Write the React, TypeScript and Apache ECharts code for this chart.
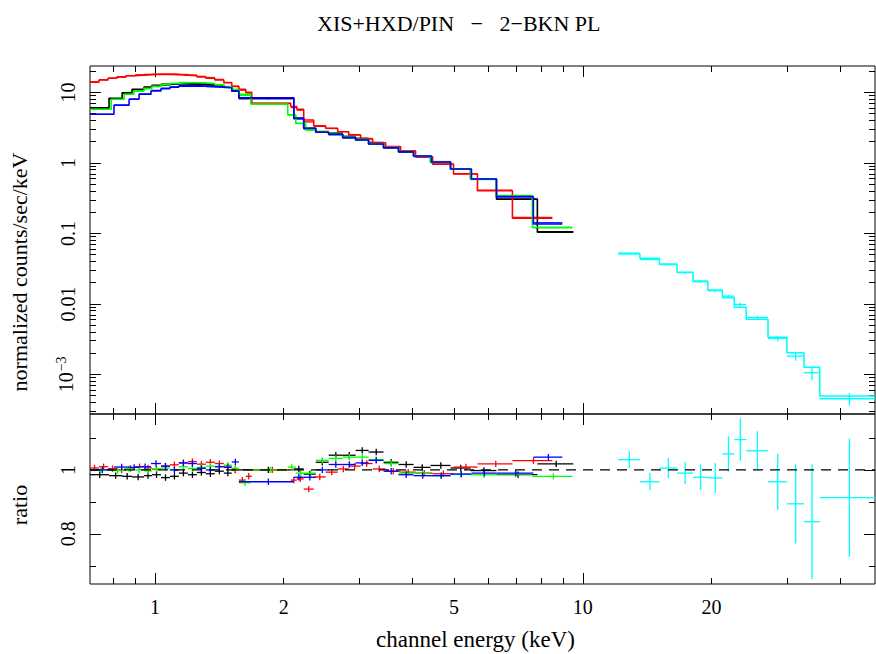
import { useEffect, useRef } from "react";
import * as echarts from "echarts";

const FONT = "'Liberation Serif', 'Times New Roman', serif";

// ---- XIS0 (black)
const blackEdges = [0.705, 0.781, 0.838, 0.884, 0.943, 0.984, 1.033, 1.084, 1.137, 1.194, 1.253, 1.315, 1.38, 1.449, 1.512, 1.571, 2.111, 2.227, 2.376, 2.547, 2.747, 2.945, 3.158, 3.422, 3.71, 4.022, 4.407, 4.908, 5.465, 6.284, 7.832, 9.502];
const blackModel = [6.07, 8.25, 9.9, 11.07, 11.93, 12.61, 13.0, 13.29, 13.4, 13.3, 13.1, 12.9, 12.6, 11.9, 10.5, 8.3, 4.29, 3.1, 2.72, 2.54, 2.28, 2.11, 1.85, 1.64, 1.44, 1.25, 1.03, 0.82, 0.59, 0.308, 0.104];
const blackRatio = [0.985, 0.982, 0.98, 0.978, 0.982, 0.985, 0.976, 0.98, 0.99, 0.985, 0.992, 0.988, 0.996, 0.99, 1.0, 1.0, 1.003, 0.987, 1.024, 1.046, 1.046, 1.061, 1.056, 1.024, 1.017, 1.008, 1.014, 1.006, 0.998, 0.985, 1.019];

// ---- XIS1 (red)
const redEdges = [0.705, 0.74, 0.777, 0.815, 0.856, 0.898, 0.943, 0.984, 1.033, 1.084, 1.137, 1.194, 1.253, 1.315, 1.38, 1.449, 1.512, 1.571, 1.63, 1.684, 2.077, 2.145, 2.227, 2.35, 2.506, 2.674, 2.837, 3.025, 3.227, 3.46, 3.751, 4.066, 4.456, 4.988, 5.674, 6.848, 8.49];
const redModel = [14.0, 15.0, 15.9, 16.6, 17.2, 17.6, 17.9, 18.06, 18.0, 17.9, 17.6, 17.2, 16.6, 15.9, 15.0, 13.7, 12.2, 11.1, 10.0, 7.0, 6.3, 5.76, 4.06, 3.37, 3.1, 2.77, 2.49, 2.18, 1.93, 1.7, 1.49, 1.22, 0.965, 0.696, 0.403, 0.164];
const redRatio = [1.006, 1.01, 1.004, 1.0, 1.005, 1.01, 1.006, 1.002, 1.012, 1.016, 1.022, 1.026, 1.018, 1.024, 1.02, 1.012, 1.0, 0.968, 0.98, 1.0, 0.968, 0.972, 0.94, 0.978, 0.993, 1.003, 1.012, 1.02, 1.003, 0.996, 0.993, 0.99, 0.988, 1.009, 1.019, 1.029];

// ---- XIS2 (green)
const greenEdges = [0.705, 0.79, 0.847, 0.893, 0.943, 0.984, 1.033, 1.084, 1.137, 1.194, 1.253, 1.315, 1.38, 1.449, 1.512, 1.571, 1.675, 2.044, 2.134, 2.251, 2.376, 2.547, 2.747, 2.945, 3.158, 3.422, 3.71, 4.022, 4.407, 4.908, 5.465, 6.284, 7.624, 9.452];
const greenModel = [5.76, 7.98, 9.4, 10.47, 11.4, 12.2, 12.9, 13.4, 13.7, 13.73, 13.6, 13.3, 12.8, 12.0, 11.0, 9.4, 6.85, 4.78, 3.65, 2.93, 2.72, 2.54, 2.3, 2.11, 1.87, 1.65, 1.45, 1.25, 1.03, 0.82, 0.59, 0.343, 0.122];
const greenRatio = [1.0, 0.998, 1.004, 1.0, 0.997, 1.003, 1.006, 1.0, 1.01, 1.004, 1.008, 1.012, 1.01, 1.015, 1.005, 0.96, 1.0, 1.009, 0.99, 0.99, 1.03, 1.036, 1.04, 1.04, 1.032, 1.02, 0.99, 0.99, 0.982, 0.987, 0.985, 0.987, 0.98];

// ---- XIS3 (blue)
const blueEdges = [0.705, 0.802, 0.87, 0.918, 0.979, 1.033, 1.084, 1.137, 1.194, 1.253, 1.315, 1.38, 1.449, 1.512, 1.571, 2.111, 2.227, 2.376, 2.547, 2.747, 2.945, 3.158, 3.422, 3.71, 4.022, 4.43, 4.908, 5.494, 6.284, 7.665, 8.958];
const blueModel = [4.89, 6.56, 7.98, 9.4, 10.47, 11.3, 11.9, 12.3, 12.4, 12.3, 12.1, 11.9, 11.66, 10.47, 8.41, 4.29, 3.1, 2.72, 2.54, 2.28, 2.11, 1.85, 1.64, 1.44, 1.25, 1.03, 0.82, 0.591, 0.332, 0.136];
const blueRatio = [1.0, 1.009, 1.008, 1.01, 1.02, 1.012, 1.0, 1.022, 1.02, 1.005, 1.0, 1.01, 1.008, 1.025, 0.963, 0.977, 0.977, 1.0, 1.017, 1.017, 1.022, 1.03, 0.996, 0.985, 0.982, 0.982, 0.987, 0.99, 0.99, 1.04];

// ---- HXD/PIN (cyan)
const pinEdges = [12.1, 13.6, 15.1, 16.6, 18.1, 19.6, 21.2, 22.6, 24.1, 27.1, 30.0, 32.9, 35.8, 48.2];
const pinModel = [0.051, 0.0443, 0.0364, 0.0281, 0.0211, 0.01575, 0.01224, 0.00895, 0.00605, 0.00336, 0.00203, 0.00126, 0.000494];
const pinRatio = [1.032, 0.963, 1.006, 0.99, 0.977, 0.975, 1.05, 1.095, 1.06, 0.963, 0.894, 0.838, 0.913];
const pinRatioErr = [0.026, 0.027, 0.031, 0.034, 0.04, 0.047, 0.055, 0.066, 0.061, 0.0875, 0.124, 0.18, 0.185];

const xisRatioErr = 0.01;

// ---- axes
const X_MIN = 0.705;
const X_MAX = 48.2;
const Y_MIN = 2.74e-4;
const Y_MAX = 23.7;
const R_MIN = 0.643;
const R_MAX = 1.175;

const xLabelValues = [1, 2, 5, 10, 20];
const xMajorTicks = [1, 10];
const xMinorTicks = [0.8, 0.9, 2, 3, 4, 5, 6, 7, 8, 9, 20, 30, 40];
const yLabelValues = [0.001, 0.01, 0.1, 1, 10];
const yMajorTicks = [0.001, 0.01, 0.1, 1, 10];
const yMinorTicks = [
  0.0003, 0.0004, 0.0005, 0.0006, 0.0007, 0.0008, 0.0009,
  0.002, 0.003, 0.004, 0.005, 0.006, 0.007, 0.008, 0.009,
  0.02, 0.03, 0.04, 0.05, 0.06, 0.07, 0.08, 0.09,
  0.2, 0.3, 0.4, 0.5, 0.6, 0.7, 0.8, 0.9,
  2, 3, 4, 5, 6, 7, 8, 9, 20,
];
const rLabelValues = [0.8, 1];
const rMajorTicks = [0.8, 1];
const rMinorTicks = [0.7, 0.9, 1.1];

const TITLE = "XIS+HXD/PIN   \u2212   2\u2212BKN PL";

const lg = (v: number) => Math.log10(v);

type Group = { name: string; color: string; edges: number[]; model: number[]; ratio: number[]; err: number[] | number };

const groups: Group[] = [
  { name: "XIS0", color: "#000000", edges: blackEdges, model: blackModel, ratio: blackRatio, err: xisRatioErr },
  { name: "XIS1", color: "#ff0000", edges: redEdges, model: redModel, ratio: redRatio, err: xisRatioErr },
  { name: "XIS2", color: "#00ff00", edges: greenEdges, model: greenModel, ratio: greenRatio, err: xisRatioErr },
  { name: "XIS3", color: "#0000ff", edges: blueEdges, model: blueModel, ratio: blueRatio, err: xisRatioErr },
  { name: "PIN", color: "#00ffff", edges: pinEdges, model: pinModel, ratio: pinRatio, err: pinRatioErr },
];

const errAt = (g: Group, i: number) => (Array.isArray(g.err) ? g.err[i] : g.err);

function stepLine(g: Group) {
  const pts: number[][] = [];
  g.model.forEach((m, i) => {
    pts.push([lg(g.edges[i]), lg(m)]);
    pts.push([lg(g.edges[i + 1]), lg(m)]);
  });
  return pts;
}

function topCrosses(g: Group) {
  return g.model.map((m, i) => {
    const lo = g.edges[i];
    const hi = g.edges[i + 1];
    const r = g.ratio[i];
    const e = errAt(g, i);
    return [lg(lo), lg(hi), lg((lo + hi) / 2), lg(m * r), lg(m * (r - e)), lg(m * (r + e))];
  });
}

function ratioCrosses(g: Group) {
  return g.ratio.map((r, i) => {
    const lo = g.edges[i];
    const hi = g.edges[i + 1];
    const e = errAt(g, i);
    return [lg(lo), lg(hi), lg((lo + hi) / 2), r, r - e, r + e];
  });
}

const renderCross = (_params: any, api: any) => {
  const a = api.coord([api.value(0), api.value(3)]);
  const b = api.coord([api.value(1), api.value(3)]);
  const c = api.coord([api.value(2), api.value(4)]);
  const d = api.coord([api.value(2), api.value(5)]);
  const color = api.visual("color");
  return {
    type: "group",
    children: [
      { type: "line", shape: { x1: a[0], y1: a[1], x2: b[0], y2: b[1] }, style: { stroke: color, lineWidth: 1.3 } },
      { type: "line", shape: { x1: c[0], y1: c[1], x2: d[0], y2: d[1] }, style: { stroke: color, lineWidth: 1.3 } },
    ],
  };
};

const textBase = { fontFamily: FONT, fontSize: 20, color: "#000" };
const nameBase = { fontFamily: FONT, fontSize: 22, color: "#000" };

function tickAxis(
  gridIndex: number,
  position: string,
  min: number,
  max: number,
  ticks: number[],
  len: number,
  extra: any = {}
) {
  return {
    type: "value",
    gridIndex,
    position,
    min,
    max,
    axisLine: { show: false, onZero: false },
    splitLine: { show: false },
    axisTick: { show: true, inside: true, length: len, customValues: ticks, lineStyle: { color: "#000", width: 1 } },
    axisLabel: { show: false },
    ...extra,
  };
}

function buildOption() {
  const xm = lg(X_MIN);
  const xM = lg(X_MAX);
  const ym = lg(Y_MIN);
  const yM = lg(Y_MAX);
  const MAJ = 11;
  const MIN = 6;

  const xLabel = {
    show: true,
    customValues: xLabelValues.map(lg),
    margin: 13,
    ...textBase,
    formatter: (v: number) => String(Math.round(Math.pow(10, v))),
  };

  const xAxis = [
    tickAxis(0, "bottom", xm, xM, xMajorTicks.map(lg), MAJ),
    tickAxis(0, "bottom", xm, xM, xMinorTicks.map(lg), MIN),
    tickAxis(0, "top", xm, xM, xMajorTicks.map(lg), MAJ),
    tickAxis(0, "top", xm, xM, xMinorTicks.map(lg), MIN),
    tickAxis(1, "bottom", xm, xM, xMajorTicks.map(lg), MAJ, {
      axisLabel: xLabel,
      name: "channel energy (keV)",
      nameLocation: "middle",
      nameGap: 44,
      nameTextStyle: { ...nameBase, fontSize: 23, padding: [0, 14, 0, 0] },
    }),
    tickAxis(1, "bottom", xm, xM, xMinorTicks.map(lg), MIN),
    tickAxis(1, "top", xm, xM, xMajorTicks.map(lg), MAJ),
    tickAxis(1, "top", xm, xM, xMinorTicks.map(lg), MIN),
  ];

  const yLabel = {
    show: true,
    customValues: yLabelValues.map(lg),
    rotate: 90,
    margin: 12,
    ...textBase,
    formatter: (v: number) => {
      const e = Math.round(v);
      if (e >= -2) return ["0.01", "0.1", "1", "10"][e + 2];
      return `{b|10}{s|\u2212${-e}}`;
    },
    rich: {
      b: { ...textBase },
      s: { fontFamily: FONT, fontSize: 14, color: "#000", padding: [0, 0, 10, 1] },
    },
  };

  const rLabel = {
    show: true,
    customValues: rLabelValues,
    rotate: 90,
    margin: 12,
    ...textBase,
    formatter: (v: number) => (Math.abs(v - 1) < 1e-6 ? "1" : String(v)),
  };

  const yAxis = [
    tickAxis(0, "left", ym, yM, yMajorTicks.map(lg), MAJ, {
      axisLabel: yLabel,
      name: "normalized counts/sec/keV",
      nameLocation: "middle",
      nameGap: 60,
      nameTextStyle: { ...nameBase, padding: [0, 64, 0, 0] },
    }),
    tickAxis(0, "left", ym, yM, yMinorTicks.map(lg), MIN),
    tickAxis(0, "right", ym, yM, yMajorTicks.map(lg), MAJ),
    tickAxis(0, "right", ym, yM, yMinorTicks.map(lg), MIN),
    tickAxis(1, "left", R_MIN, R_MAX, rMajorTicks, MAJ, {
      axisLabel: rLabel,
      name: "ratio",
      nameLocation: "middle",
      nameGap: 60,
      nameTextStyle: { ...nameBase, padding: [0, 12, 0, 0] },
    }),
    tickAxis(1, "left", R_MIN, R_MAX, rMinorTicks, MIN),
    tickAxis(1, "right", R_MIN, R_MAX, rMajorTicks, MAJ),
    tickAxis(1, "right", R_MIN, R_MAX, rMinorTicks, MIN),
  ];

  const series: any[] = [];
  groups.forEach((g) => {
    series.push({
      type: "custom",
      name: g.name + " data",
      xAxisIndex: 0,
      yAxisIndex: 0,
      renderItem: renderCross,
      clip: true,
      encode: { x: [0, 1, 2], y: [3, 4, 5] },
      itemStyle: { color: g.color },
      color: g.color,
      data: topCrosses(g),
      silent: true,
    });
  });
  groups.forEach((g) => {
    series.push({
      type: "line",
      name: g.name + " model",
      xAxisIndex: 0,
      yAxisIndex: 0,
      showSymbol: false,
      symbol: "none",
      clip: true,
      lineStyle: { color: g.color, width: 1.6 },
      itemStyle: { color: g.color },
      data: stepLine(g),
      silent: true,
    });
  });
  series.push({
    type: "line",
    name: "unity",
    xAxisIndex: 4,
    yAxisIndex: 4,
    symbol: "none",
    lineStyle: { color: "#000", width: 1.2, type: [10, 7] },
    data: [
      [xm, 1],
      [xM, 1],
    ],
    silent: true,
  });
  groups.forEach((g) => {
    series.push({
      type: "custom",
      name: g.name + " ratio",
      xAxisIndex: 4,
      yAxisIndex: 4,
      renderItem: renderCross,
      clip: true,
      encode: { x: [0, 1, 2], y: [3, 4, 5] },
      itemStyle: { color: g.color },
      color: g.color,
      data: ratioCrosses(g),
      silent: true,
    });
  });

  return {
    animation: false,
    backgroundColor: "#ffffff",
    title: {
      text: TITLE,
      left: 312,
      top: 7,
      textStyle: { fontFamily: FONT, fontSize: 22, color: "#000", fontWeight: "normal" },
    },
    grid: [
      { left: 89, top: 66, width: 786, height: 348, show: true, borderColor: "#000", borderWidth: 1, backgroundColor: "transparent" },
      { left: 89, top: 414, width: 786, height: 170, show: true, borderColor: "#000", borderWidth: 1, backgroundColor: "transparent" },
    ],
    xAxis,
    yAxis,
    series,
  };
}

export default function App() {
  const ref = useRef<HTMLDivElement>(null);
  useEffect(() => {
    document.body.style.margin = "0";
    if (!ref.current) return;
    const chart = echarts.init(ref.current, undefined, { renderer: "svg" });
    chart.setOption(buildOption() as any);
    return () => chart.dispose();
  }, []);
  return <div ref={ref} style={{ width: 876, height: 654 }} />;
}
